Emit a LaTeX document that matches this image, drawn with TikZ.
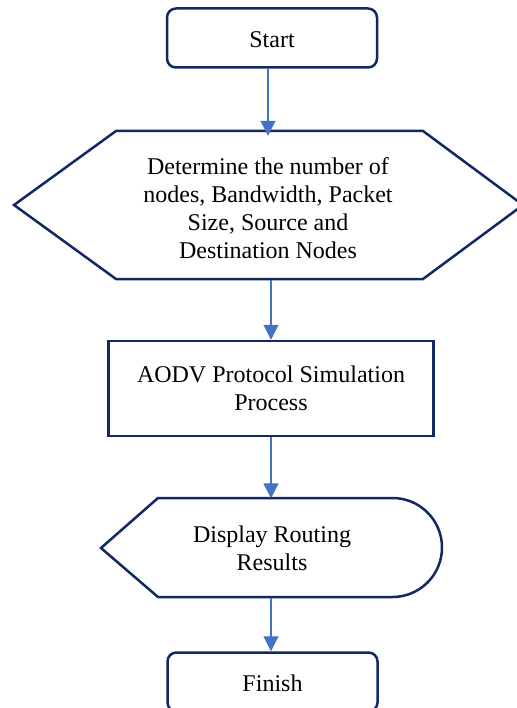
\documentclass[tikz,border=0pt]{standalone}
\usepackage{fontspec}
\setmainfont{Liberation Serif}
\usetikzlibrary{arrows.meta}
\definecolor{navy}{RGB}{18,40,100}
\definecolor{arrowblue}{RGB}{68,114,196}
\begin{document}
\begin{tikzpicture}[x=1pt,y=-1pt,
  txt/.style={font=\fontsize{24}{28}\selectfont, align=center, inner sep=0pt},
  outline/.style={draw=navy, line width=2.5pt, line join=miter},
  termbox/.style={txt, outline, rounded corners=9pt, minimum width=210pt, minimum height=59pt, text height=20pt},
  procbox/.style={txt, outline, minimum width=325pt, minimum height=95pt},
  flow/.style={draw=arrowblue, line width=1.2pt, -{Triangle[width=15pt,length=15pt]}}
]
\useasboundingbox (0,0) rectangle (516,708);
\fill[white] (0,0) rectangle (516,708);

\node[termbox] (start) at (272,38) {Start};

\draw[outline] (14,205) -- (116,131) -- (423,131) -- (523,205) -- (423,279) -- (116,279) -- cycle;
\node[txt, minimum height=144pt, minimum width=260pt] (h) at (268,208)
  {Determine the number of\\nodes, Bandwidth, Packet\\Size, Source and\\Destination Nodes};

\node[procbox] (aodv) at (271,388.5) {AODV Protocol Simulation\\Process};

\draw[outline] (101,548) -- (158,498) -- (392.5,498) arc[start angle=-90, end angle=90, radius=49.5] -- (158,597) -- cycle;
\node[txt, minimum height=99pt, minimum width=200pt] (disp) at (272,548) {Display Routing\\Results};

\node[termbox] (finish) at (272.5,682) {Finish};

\draw[flow] (start.south -| h.north) -- (h.north);
\draw[flow] (h.south -| aodv.north) -- (aodv.north);
\draw[flow] (aodv.south) -- (disp.north -| aodv.south);
\draw[flow] (disp.south -| aodv.south) -- (finish.north -| aodv.south);
\end{tikzpicture}
\end{document}
